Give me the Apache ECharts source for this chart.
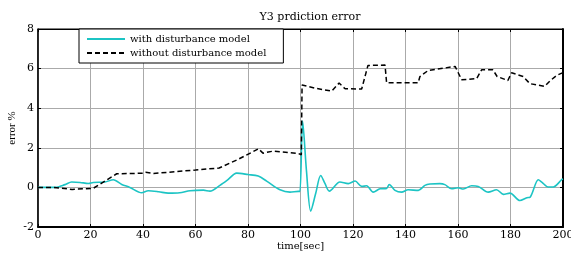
<!DOCTYPE html>
<html>
<head>
<meta charset="utf-8">
<script src="https://cdn.jsdelivr.net/npm/echarts@6/dist/echarts.min.js"></script>
<style>
    html, body {margin: 0; padding: 0; background: #fff;}
    #chart {width: 571px; height: 257px;}
</style>
</head>
<body>
<div id="chart"></div>
<script>
    // time [sec] / error %
    var withT = [0, 6.5, 10.3, 12.8, 16, 19.2, 21, 25.5, 28.7, 31.9, 35, 39.5, 42, 46, 49.6, 54, 57.9, 63, 65.5, 69.3,
        72, 75.7, 80, 83.9, 87.1, 92.2, 96, 99.2, 99.8, 100.8, 102.3, 103.9, 105.8, 107.7, 109.3, 111, 115, 118.2, 120.8, 123.3,
        125.2, 127.7, 130.3, 132.8, 133.8, 136, 138.5, 141, 144.9, 147.4, 149.3, 153.1, 155, 157.6, 160.1, 162, 165.2, 167.7, 171.5, 174.7,
        177.3, 179.8, 183.6, 186.2, 187.4, 190.6, 191.9, 194.4, 196.3, 199.5, 200];
    var withV = [0, 0, 0.14, 0.27, 0.25, 0.2, 0.25, 0.27, 0.39, 0.15, 0, -0.27, -0.17, -0.22, -0.29, -0.27, -0.17, -0.14, -0.19, 0.1,
        0.35, 0.72, 0.65, 0.57, 0.32, -0.12, -0.24, -0.2, -0.2, 3.35, 0.8, -1.2, -0.3, 0.6, 0.2, -0.19, 0.27, 0.19, 0.32, 0.05,
        0.08, -0.24, -0.07, -0.05, 0.15, -0.15, -0.24, -0.12, -0.15, 0.1, 0.17, 0.19, 0.14, -0.07, -0.02, -0.08, 0.08, 0.05, -0.24, -0.12,
        -0.35, -0.29, -0.66, -0.52, -0.5, 0.39, 0.27, 0.02, 0.02, 0.39, 0.42];
    var withoutT = [0, 6, 13, 21, 30, 36, 40, 41, 44, 50, 60, 69, 76, 84, 85.7, 89.5, 99, 100.3, 100.6, 106,
        111.9, 114.7, 117, 123.3, 125.7, 132.2, 132.8, 144.8, 145.5, 148.6, 158.9, 161.4, 167.1, 169, 173.3, 174.9, 179, 180.4, 184.8, 187.4,
        193, 195, 197.6, 200];
    var withoutV = [0, 0, -0.1, -0.05, 0.69, 0.7, 0.72, 0.76, 0.7, 0.77, 0.88, 0.98, 1.4, 1.95, 1.73, 1.83, 1.72, 1.65, 5.17, 5.0,
        4.86, 5.27, 4.98, 4.97, 6.16, 6.18, 5.28, 5.28, 5.6, 5.9, 6.11, 5.44, 5.49, 5.94, 5.94, 5.6, 5.4, 5.79, 5.6, 5.24,
        5.1, 5.37, 5.66, 5.8];

    var pairs = function (xs, ys) {
        return xs.map(function (x, i) { return [x, ys[i]]; });
    };

    var font = 'DejaVu Serif';
    var tickStyle = {show: true, inside: true, length: 3, lineStyle: {color: '#000'}};

    var option = {
        animation: false,
        backgroundColor: '#fff',
        title: {
            text: 'Y3 prdiction error',
            left: 305,
            textAlign: 'center',
            top: 7,
            textStyle: {fontFamily: font, fontSize: 11, fontWeight: 'normal', color: '#000'}
        },
        legend: {
            orient: 'vertical',
            left: 79,
            top: 29,
            itemWidth: 38,
            itemHeight: 10,
            itemGap: 4,
            padding: [5, 17, 5, 7],
            borderColor: '#000',
            borderWidth: 1,
            backgroundColor: '#fff',
            itemStyle: {opacity: 0},
            textStyle: {fontFamily: font, fontSize: 10, color: '#000'},
            data: ['with disturbance model', 'without disturbance model']
        },
        grid: {
            left: 38, right: 8, top: 29, bottom: 30,
            outerBoundsMode: 'none',
            containLabel: false,
            show: true, borderColor: '#000', borderWidth: 1
        },
        xAxis: [{
            type: 'value',
            min: 0, max: 200, interval: 20,
            name: 'time[sec]',
            nameLocation: 'middle',
            nameGap: 14,
            nameMoveOverlap: false,
            nameTextStyle: {fontFamily: font, fontSize: 10, color: '#000'},
            axisLine: {show: true, onZero: false, lineStyle: {color: '#000', width: 2}},
            axisTick: tickStyle,
            axisLabel: {fontFamily: font, fontSize: 11, color: '#000', margin: 3},
            splitLine: {show: true, lineStyle: {color: '#aaa', width: 1}}
        }, {
            type: 'value', position: 'top',
            min: 0, max: 200, interval: 20,
            axisLine: {show: true, onZero: false, lineStyle: {color: '#000'}},
            axisTick: tickStyle,
            axisLabel: {show: false},
            splitLine: {show: false}
        }],
        yAxis: [{
            type: 'value',
            min: -2, max: 8, interval: 2,
            name: 'error %',
            nameLocation: 'middle',
            nameGap: 20,
            nameMoveOverlap: false,
            nameTextStyle: {fontFamily: 'Liberation Serif', fontSize: 11, color: '#000'},
            axisLine: {show: true, onZero: false, lineStyle: {color: '#000', width: 1.5}},
            axisTick: tickStyle,
            axisLabel: {fontFamily: font, fontSize: 11, color: '#000', margin: 4},
            splitLine: {show: true, lineStyle: {color: '#aaa', width: 1}}
        }, {
            type: 'value', position: 'right',
            min: -2, max: 8, interval: 2,
            axisLine: {show: true, onZero: false, lineStyle: {color: '#000', width: 2}},
            axisTick: tickStyle,
            axisLabel: {show: false},
            splitLine: {show: false}
        }],
        series: [{
            name: 'with disturbance model',
            type: 'line',
            data: pairs(withT, withV),
            smooth: 0.3,
            showSymbol: false,
            symbol: 'none',
            lineStyle: {color: '#1cc4c4', width: 1.6},
            itemStyle: {color: '#1cc4c4'},
            z: 3
        }, {
            name: 'without disturbance model',
            type: 'line',
            data: pairs(withoutT, withoutV),
            showSymbol: false,
            symbol: 'none',
            lineStyle: {color: '#000', width: 1.5, type: [5, 3]},
            itemStyle: {color: '#000'},
            z: 4
        }]
    };

    var chart = echarts.init(document.getElementById('chart'));
    chart.setOption(option);
</script>
</body>
</html>
